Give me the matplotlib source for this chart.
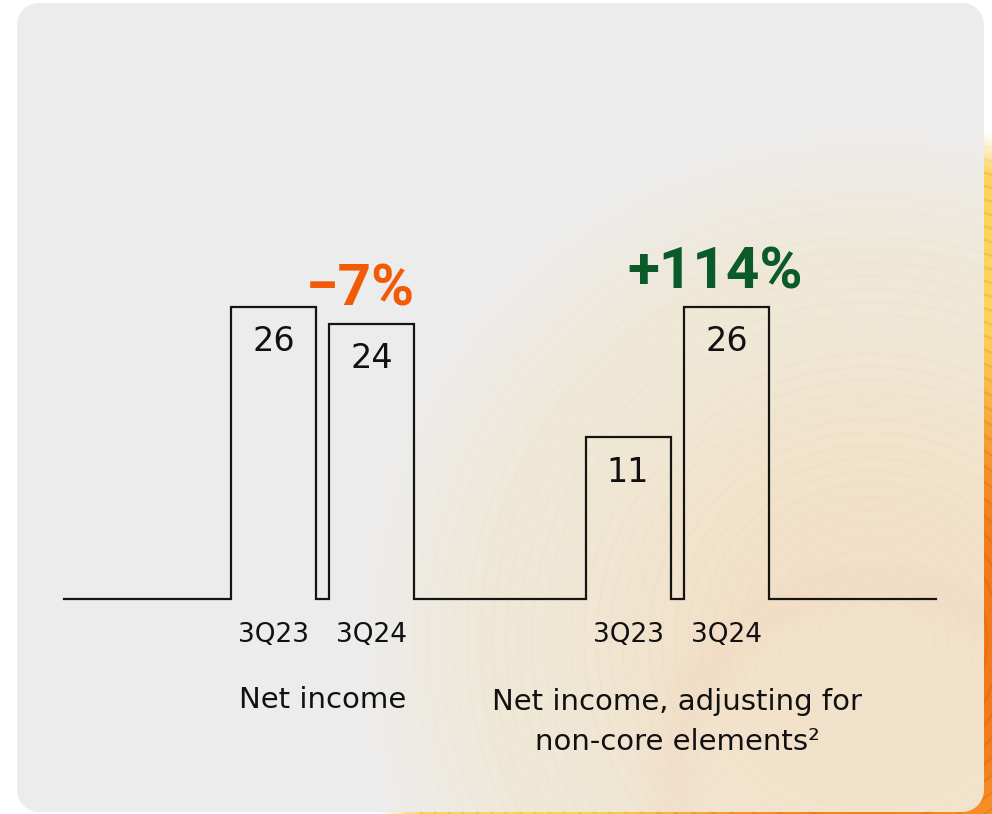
import numpy as np
import matplotlib
matplotlib.use('Agg')
from matplotlib import pyplot as plt

plt.rcParams['font.family'] = ['DejaVu Sans']

# data
quarters = ['3Q23', '3Q24']
group_names = ['Net income', 'Net income, adjusting for\nnon-core elements²']
net_income = [26, 24]
net_income_adj = [11, 26]
changes = ['−7%', '+114%']
change_colors = ['#F25A08', '#0B5A29']

values = net_income + net_income_adj
labels = quarters + quarters
xpos = [0, 1, 3.6, 4.6]
width = 0.863
pad = 1.695
floor = -7.5  # bars start below zero, like in the source slide

W, H = 992, 814
fig = plt.figure(figsize=(W / 100, H / 100), dpi=100)

# background: rounded grey panel, rings show through in the lower right
yy, xx = np.mgrid[0:H, 0:W] + 0.5
x0, x1, y0, y1, rad = 17, 984, 3, 812, 22
dx = np.maximum(np.maximum(x0 + rad - xx, xx - (x1 - rad)), 0)
dy = np.maximum(np.maximum(y0 + rad - yy, yy - (y1 - rad)), 0)
panel = np.clip(rad + 0.5 - np.hypot(dx, dy), 0, 1)[..., None]

R = 520
r = np.hypot(xx - 870, yy - 640)
t = np.clip(r / R, 0, 1)
s = np.clip((t - 0.25) / 0.45, 0, 1)
s = (s * s * (3 - 2 * s))[..., None]
w = np.clip((R - r) / 140, 0, 1)[..., None]
w_out = np.clip((R - r) / 40, 0, 1)[..., None]
rings = (0.5 + 0.5 * np.cos(2 * np.pi * r / 13)) ** 10
rings = rings[..., None]

r2 = np.hypot(xx - 870, yy - 780)
rim = np.exp(-((r2 - 195) / 28) ** 2)[..., None]
inner = np.clip((190 - r2) / 25, 0, 1)[..., None]

# saturated colours outside the panel
orange = np.array([0.96, 0.48, 0.10])
yellow = np.array([1.0, 0.83, 0.35])
strong = orange * (1 - s) + yellow * s
strong = strong * (1 - 0.08 * rings)

# muted colours inside the panel
gray = np.array([0.929, 0.929, 0.929])
peach = np.array([0.95, 0.885, 0.79])
cream = np.array([0.938, 0.912, 0.845])
soft = peach * (1 - s) + cream * s
soft = soft - 0.02 * rings * np.array([0.2, 0.6, 1.0])
soft = soft * (1 - rim * 0.35) + np.array([0.95, 0.84, 0.76]) * rim * 0.35
soft = soft * (1 - inner * 0.4) + np.array([0.95, 0.895, 0.81]) * inner * 0.4

pan = gray * (1 - w) + soft * w
out = np.ones(3) * (1 - w_out) + strong * w_out
img = panel * pan + (1 - panel) * out

bg = fig.add_axes([0, 0, 1, 1])
bg.imshow(np.clip(img, 0, 1), extent=[0, W, H, 0], aspect='auto')
bg.axis('off')

# chart axes, baseline at y=599 px
k = 8.73  # px per unit
ax = fig.add_axes([64 / W, (H - 599) / H, (936 - 64) / W, 599 / H])
ax.patch.set_alpha(0)
ax.set_xlim(xpos[0] - width / 2 - pad, xpos[-1] + width / 2 + pad)
ax.set_ylim(floor, floor + 599 / k)
ax.axis('off')

px = [ax.get_xlim()[0]]
py = [floor]
for x, v in zip(xpos, values):
    px += [x - width / 2, x - width / 2, x + width / 2, x + width / 2]
    py += [floor, v, v, floor]
px.append(ax.get_xlim()[1])
py.append(floor)
ax.plot(px, py, color='#141414', lw=1.6, solid_joinstyle='miter', clip_on=False)

for x, v, lab in zip(xpos, values, labels):
    ax.annotate(str(v), (x, v), xytext=(0, -32), textcoords='offset points',
                ha='center', va='baseline', fontsize=24, color='#111111')
    ax.annotate(lab, (x, floor), xytext=(0, -31), textcoords='offset points',
                ha='center', va='baseline', fontsize=19, color='#111111',
                annotation_clip=False)

for i, name in enumerate(group_names):
    gx = (xpos[2 * i] + xpos[2 * i + 1]) / 2
    nlines = name.count('\n')
    # va='baseline' sits on the last line, so move down per extra line
    ax.annotate(name, (gx, floor), xytext=(0, -78.5 - 30.2 * nlines),
                textcoords='offset points', ha='center', va='baseline',
                fontsize=21, color='#111111', linespacing=1.55,
                multialignment='center', annotation_clip=False)
    xb = xpos[2 * i + 1]
    ax.annotate(changes[i], (xb - 0.12, values[2 * i + 1]), xytext=(0, 13),
                textcoords='offset points', ha='center', va='baseline',
                fontsize=42, fontweight='bold', color=change_colors[i],
                family=['Roboto', 'DejaVu Sans'])

fig.savefig('out.png', dpi=100)
